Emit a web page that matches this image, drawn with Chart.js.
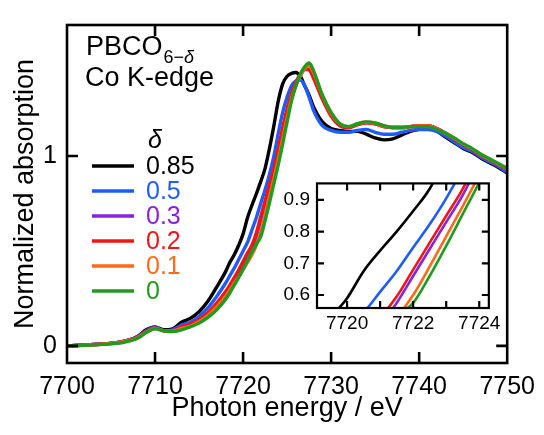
<!DOCTYPE html>
<html>
<head>
<meta charset="utf-8">
<script src="https://cdn.jsdelivr.net/npm/chart.js@4.4.1/dist/chart.umd.min.js"></script>
<style>
  html, body { margin: 0; padding: 0; background: #fff; }
  #wrap { position: relative; width: 544px; height: 435px; }
  #main { position: absolute; left: 0; top: 0; }
  #inset { position: absolute; left: 265px; top: 165px; }
</style>
</head>
<body>
<div id="wrap">
  <canvas id="main" width="544" height="435" style="width:544px;height:435px"></canvas>
  <canvas id="inset" width="240" height="177" style="width:240px;height:177px"></canvas>
</div>
<script>
// photon energy grid (eV)
const energy = [7700, 7702, 7704, 7706, 7707, 7708, 7709, 7710, 7711, 7712, 7713, 7714, 7715, 7716, 7717, 7718,
  7718.5, 7719, 7719.5, 7720, 7720.5, 7721, 7721.5, 7722, 7722.5, 7723, 7723.5, 7724, 7724.5, 7725, 7725.5, 7726, 7726.5, 7727, 7727.5, 7728,
  7729, 7730, 7731, 7732, 7733, 7734, 7735, 7736, 7737, 7738, 7739, 7740, 7741, 7742, 7743, 7744, 7745, 7746, 7747, 7748, 7749, 7750];

// normalized absorption for each delta
const d085 = [0.00, 0.005, 0.01, 0.02, 0.03, 0.05, 0.085, 0.10, 0.085, 0.09, 0.125, 0.145, 0.18, 0.235, 0.31, 0.39,
  0.44, 0.48, 0.53, 0.59, 0.675, 0.74, 0.80, 0.865, 0.935, 1.04, 1.16, 1.29, 1.38, 1.42, 1.435, 1.44, 1.42, 1.37, 1.32, 1.26,
  1.18, 1.145, 1.135, 1.13, 1.13, 1.115, 1.095, 1.085, 1.09, 1.11, 1.13, 1.14, 1.145, 1.13, 1.10, 1.07, 1.04, 1.02, 0.99, 0.965, 0.94, 0.91];
const d05 = [0.00, 0.005, 0.01, 0.02, 0.03, 0.05, 0.08, 0.10, 0.08, 0.085, 0.11, 0.125, 0.155, 0.20, 0.26, 0.33,
  0.37, 0.41, 0.455, 0.50, 0.545, 0.61, 0.675, 0.75, 0.823, 0.905, 1.00, 1.12, 1.23, 1.31, 1.37, 1.395, 1.40, 1.37, 1.31, 1.24,
  1.16, 1.135, 1.125, 1.125, 1.135, 1.14, 1.125, 1.115, 1.115, 1.125, 1.135, 1.14, 1.14, 1.13, 1.105, 1.075, 1.045, 1.025, 0.995, 0.97, 0.945, 0.915];
const d03 = [0.00, 0.005, 0.01, 0.02, 0.03, 0.045, 0.075, 0.095, 0.08, 0.08, 0.10, 0.112, 0.135, 0.17, 0.22, 0.28,
  0.315, 0.35, 0.39, 0.43, 0.47, 0.51, 0.575, 0.66, 0.745, 0.83, 0.915, 1.02, 1.13, 1.235, 1.32, 1.385, 1.425, 1.455, 1.455, 1.415,
  1.305, 1.215, 1.16, 1.15, 1.165, 1.175, 1.17, 1.155, 1.15, 1.15, 1.155, 1.16, 1.16, 1.145, 1.12, 1.09, 1.06, 1.035, 1.005, 0.98, 0.955, 0.93];
const d02 = [0.00, 0.005, 0.01, 0.02, 0.03, 0.045, 0.075, 0.095, 0.08, 0.08, 0.10, 0.115, 0.14, 0.175, 0.225, 0.285,
  0.32, 0.36, 0.40, 0.445, 0.49, 0.53, 0.595, 0.68, 0.765, 0.85, 0.935, 1.04, 1.15, 1.25, 1.33, 1.39, 1.43, 1.46, 1.455, 1.41,
  1.30, 1.21, 1.16, 1.15, 1.165, 1.175, 1.17, 1.155, 1.15, 1.15, 1.155, 1.16, 1.16, 1.145, 1.12, 1.09, 1.06, 1.035, 1.005, 0.98, 0.955, 0.93];
const d01 = [0.00, 0.004, 0.009, 0.018, 0.028, 0.042, 0.072, 0.092, 0.08, 0.078, 0.092, 0.105, 0.128, 0.16, 0.205, 0.26,
  0.295, 0.33, 0.365, 0.40, 0.44, 0.48, 0.53, 0.60, 0.69, 0.785, 0.88, 0.98, 1.09, 1.20, 1.30, 1.37, 1.42, 1.46, 1.475, 1.44,
  1.32, 1.225, 1.17, 1.155, 1.17, 1.178, 1.173, 1.158, 1.15, 1.15, 1.155, 1.158, 1.158, 1.143, 1.12, 1.093, 1.063, 1.038, 1.008, 0.983, 0.958, 0.933];
const d0 = [0.00, 0.003, 0.008, 0.015, 0.025, 0.04, 0.07, 0.09, 0.08, 0.075, 0.085, 0.10, 0.12, 0.15, 0.19, 0.245,
  0.28, 0.32, 0.36, 0.405, 0.45, 0.495, 0.535, 0.575, 0.66, 0.755, 0.855, 0.955, 1.065, 1.18, 1.29, 1.37, 1.43, 1.47, 1.49, 1.45,
  1.32, 1.23, 1.17, 1.155, 1.17, 1.18, 1.175, 1.16, 1.15, 1.15, 1.155, 1.155, 1.155, 1.14, 1.12, 1.095, 1.065, 1.04, 1.01, 0.985, 0.96, 0.935];

const deltaLabels = ['0.85', '0.5', '0.3', '0.2', '0.1', '0'];
const seriesValues = [d085, d05, d03, d02, d01, d0];
const seriesColors = ['#000000', '#1f5cff', '#8a22dd', '#f01616', '#ff6a1a', '#219a1e'];

const mainXTicks = [7700, 7710, 7720, 7730, 7740, 7750];
const mainYTicks = [0, 1];
const insetXTicks = [7720, 7721, 7722, 7723, 7724];
const insetXLabels = [7720, 7722, 7724];
const insetYTicks = [0.6, 0.7, 0.8, 0.9];

const FONT = '"Liberation Sans", Arial, Helvetica, sans-serif';

function buildDatasets(width) {
  return seriesValues.map(function (vals, i) {
    return {
      label: deltaLabels[i],
      data: energy.map(function (e, j) { return { x: e, y: vals[j] }; }),
      borderColor: seriesColors[i],
      borderWidth: width,
      pointRadius: 0,
      fill: false,
      cubicInterpolationMode: 'monotone',
      order: seriesValues.length - 1 - i,
      clip: 0
    };
  });
}

// frame plus inward ticks on all four sides
function frameTicks(xt, yt, len, lw) {
  return {
    id: 'frameTicks',
    beforeDraw(chart) {
      const a = chart.chartArea, ctx = chart.ctx;
      ctx.save();
      ctx.fillStyle = '#fff';
      ctx.fillRect(a.left, a.top, a.width, a.height);
      ctx.restore();
    },
    afterDatasetsDraw(chart) {
      const ctx = chart.ctx, a = chart.chartArea;
      const xs = chart.scales.x, ys = chart.scales.y;
      ctx.save();
      ctx.strokeStyle = '#000';
      ctx.lineWidth = lw;
      ctx.beginPath();
      xt.forEach(function (v) {
        const p = xs.getPixelForValue(v);
        ctx.moveTo(p, a.bottom); ctx.lineTo(p, a.bottom - len);
        ctx.moveTo(p, a.top); ctx.lineTo(p, a.top + len);
      });
      yt.forEach(function (v) {
        const p = ys.getPixelForValue(v);
        ctx.moveTo(a.left, p); ctx.lineTo(a.left + len, p);
        ctx.moveTo(a.right, p); ctx.lineTo(a.right - len, p);
      });
      ctx.stroke();
      ctx.strokeRect(a.left, a.top, a.right - a.left, a.bottom - a.top);
      ctx.restore();
    }
  };
}

const annotate = {
  id: 'annotate',
  afterDraw(chart) {
    const ctx = chart.ctx;
    ctx.save();
    ctx.fillStyle = '#000';
    ctx.textBaseline = 'alphabetic';
    ctx.textAlign = 'left';
    ctx.font = '27px ' + FONT;
    ctx.fillText('PBCO', 86, 55);
    const w = ctx.measureText('PBCO').width;
    ctx.font = '18px ' + FONT;
    ctx.fillText('6\u2212', 86 + w + 1, 63);
    const w2 = ctx.measureText('6\u2212').width;
    ctx.font = 'italic 18px ' + FONT;
    ctx.fillText('\u03b4', 86 + w + 1 + w2, 63);
    ctx.font = '27px ' + FONT;
    ctx.fillText('Co K-edge', 85, 86);

    // legend
    ctx.font = 'italic 25px ' + FONT;
    ctx.textBaseline = 'middle';
    ctx.fillText('\u03b4', 148, 141);
    ctx.font = '25px ' + FONT;
    deltaLabels.forEach(function (lab, i) {
      const y = 166 + i * 25;
      ctx.strokeStyle = seriesColors[i];
      ctx.lineWidth = 3.3;
      ctx.beginPath();
      ctx.moveTo(92, y); ctx.lineTo(134, y);
      ctx.stroke();
      ctx.fillStyle = seriesColors[i];
      ctx.fillText(lab, 146, y + 1);
    });
    ctx.restore();
  }
};

new Chart(document.getElementById('main').getContext('2d'), {
  type: 'line',
  data: { datasets: buildDatasets(3.4) },
  options: {
    responsive: false,
    animation: false,
    layout: { padding: { left: 0, top: 12, right: 33, bottom: 0 } },
    plugins: { legend: { display: false }, tooltip: { enabled: false } },
    scales: {
      x: {
        type: 'linear', min: 7700, max: 7750,
        afterFit: function (s) { s.height = 72; },
        afterBuildTicks: function (s) { s.ticks = mainXTicks.map(function (v) { return { value: v }; }); },
        grid: { display: false, drawTicks: false },
        border: { display: false },
        ticks: { padding: 9, color: '#000', font: { family: FONT, size: 25 }, maxRotation: 0,
          callback: function (v) { return String(v); } },
        title: { display: true, text: 'Photon energy / eV', color: '#000', font: { family: FONT, size: 27 },
          padding: { top: 0, bottom: 10 } }
      },
      y: {
        type: 'linear', min: -0.09, max: 1.69,
        afterFit: function (s) { s.width = 67; },
        afterBuildTicks: function (s) { s.ticks = mainYTicks.map(function (v) { return { value: v }; }); },
        grid: { display: false, drawTicks: false },
        border: { display: false },
        ticks: { padding: 10, color: '#000', font: { family: FONT, size: 25 } },
        title: { display: true, text: 'Normalized absorption', color: '#000', font: { family: FONT, size: 27 },
          padding: { top: 9, bottom: 0 } }
      }
    }
  },
  plugins: [frameTicks(mainXTicks.slice(1, -1), mainYTicks, 11, 2.6), annotate]
});

new Chart(document.getElementById('inset').getContext('2d'), {
  type: 'line',
  data: { datasets: buildDatasets(2.6) },
  options: {
    responsive: false,
    animation: false,
    layout: { padding: { left: 0, top: 12, right: 11, bottom: 0 } },
    plugins: { legend: { display: false }, tooltip: { enabled: false } },
    scales: {
      x: {
        type: 'linear', min: 7719.09, max: 7724.29,
        afterFit: function (s) { s.height = 34; },
        afterBuildTicks: function (s) { s.ticks = insetXLabels.map(function (v) { return { value: v }; }); },
        grid: { display: false, drawTicks: false },
        border: { display: false },
        ticks: { padding: 4, color: '#000', font: { family: FONT, size: 19 }, maxRotation: 0,
          callback: function (v) { return String(v); } }
      },
      y: {
        type: 'linear', min: 0.559, max: 0.952,
        afterFit: function (s) { s.width = 52; },
        afterBuildTicks: function (s) { s.ticks = insetYTicks.map(function (v) { return { value: v }; }); },
        grid: { display: false, drawTicks: false },
        border: { display: false },
        ticks: { padding: 7, color: '#000', font: { family: FONT, size: 19 },
          callback: function (v) { return v.toFixed(1); } }
      }
    }
  },
  plugins: [frameTicks(insetXTicks, insetYTicks, 7, 2.2)]
});
</script>
</body>
</html>
